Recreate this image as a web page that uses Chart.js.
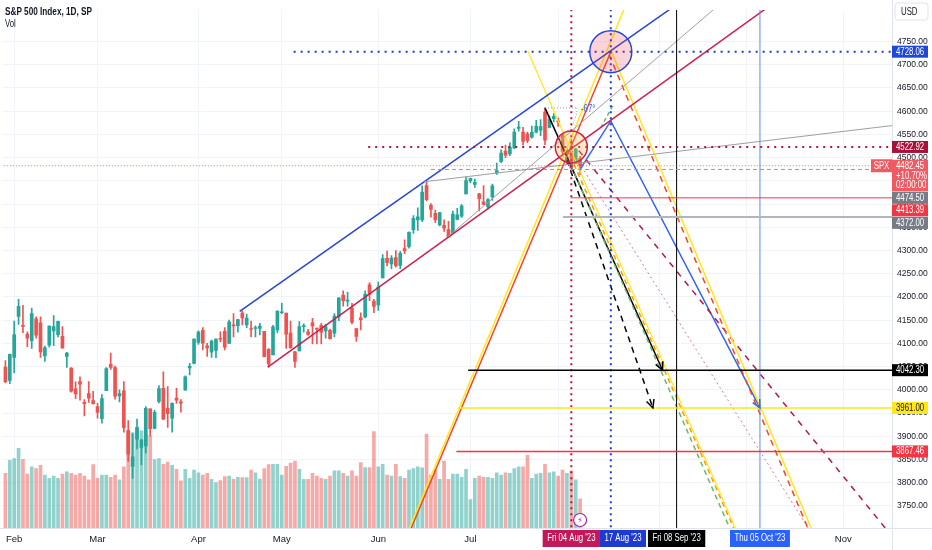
<!DOCTYPE html>
<html>
<head>
<meta charset="utf-8">
<script src="https://cdn.jsdelivr.net/npm/chart.js@4.4.0/dist/chart.umd.min.js"></script>
<style>
  html, body { margin: 0; padding: 0; background: #fff; }
</style>
</head>
<body>
<canvas id="spx" width="932" height="550"></canvas>
<script>
// trading days, Jan 30 .. Aug 8 2023 (x value = position in this list)
const days = [
  '01-30','01-31',
  '02-01','02-02','02-03','02-06','02-07','02-08','02-09','02-10','02-13','02-14','02-15','02-16','02-17','02-21','02-22','02-23','02-24','02-27','02-28',
  '03-01','03-02','03-03','03-06','03-07','03-08','03-09','03-10','03-13','03-14','03-15','03-16','03-17','03-20','03-21','03-22','03-23','03-24','03-27','03-28','03-29','03-30','03-31',
  '04-03','04-04','04-05','04-06','04-10','04-11','04-12','04-13','04-14','04-17','04-18','04-19','04-20','04-21','04-24','04-25','04-26','04-27','04-28',
  '05-01','05-02','05-03','05-04','05-05','05-08','05-09','05-10','05-11','05-12','05-15','05-16','05-17','05-18','05-19','05-22','05-23','05-24','05-25','05-26','05-30','05-31',
  '06-01','06-02','06-05','06-06','06-07','06-08','06-09','06-12','06-13','06-14','06-15','06-16','06-20','06-21','06-22','06-23','06-26','06-27','06-28','06-29','06-30',
  '07-03','07-05','07-06','07-07','07-10','07-11','07-12','07-13','07-14','07-17','07-18','07-19','07-20','07-21','07-24','07-25','07-26','07-27','07-28','07-31',
  '08-01','08-02','08-03','08-04','08-07','08-08'
];
const opens = [
  4049,4020,
  4070,4158,4137,4120,4106,4153,4144,4073,4096,4127,4119,4115,4072,4047,4002,4018,3973,3992,3977,
  3964,3938,3998,4055,4048,3987,3998,3912,3835,3894,3876,3879,3959,3917,3975,4003,3960,3939,3982,3974,3999,4047,4057,
  4102,4128,4095,4081,4085,4111,4126,4100,4140,4138,4165,4140,4131,4132,4132,4126,4087,4075,4129,
  4166,4165,4122,4082,4084,4136,4125,4144,4133,4139,4127,4128,4122,4157,4204,4191,4176,4132,4155,4157,4226,4191,
  4183,4241,4283,4271,4285,4268,4304,4308,4345,4366,4366,4440,4397,4380,4355,4354,4345,4338,4367,4374,4422,
  4450,4442,4422,4405,4394,4416,4467,4492,4514,4508,4521,4563,4555,4551,4544,4555,4559,4598,4565,4584,
  4579,4550,4494,4514,4492,4498
];
const highs = [
  4063,4077,
  4148,4195,4182,4125,4176,4157,4157,4094,4138,4160,4148,4136,4081,4048,4017,4028,3979,4018,3997,
  3971,3990,4048,4079,4051,4000,4018,3934,3905,3937,3894,3964,3959,3956,4009,4039,4007,3972,4003,3979,4030,4057,4110,
  4127,4134,4100,4107,4110,4125,4134,4150,4164,4152,4170,4163,4148,4138,4143,4126,4089,4139,4170,
  4186,4165,4148,4083,4147,4142,4130,4154,4133,4143,4141,4131,4164,4198,4213,4210,4186,4132,4166,4213,4231,4195,
  4232,4291,4299,4289,4300,4298,4323,4340,4375,4392,4439,4448,4401,4387,4382,4366,4363,4385,4391,4399,4458,
  4456,4454,4423,4440,4412,4443,4488,4517,4527,4532,4562,4578,4565,4555,4568,4580,4582,4607,4590,4595,
  4585,4551,4519,4540,4520,4503
];
const lows = [
  4015,4013,
  4037,4141,4123,4093,4089,4111,4070,4061,4092,4095,4114,4089,4048,3995,3981,3978,3944,3973,3969,
  3939,3928,3998,4044,3980,3974,3909,3846,3809,3873,3839,3864,3901,3916,3972,3936,3919,3909,3971,3952,3999,4032,4056,
  4098,4086,4072,4070,4069,4103,4086,4100,4114,4124,4140,4134,4114,4114,4118,4071,4049,4075,4123,
  4164,4089,4089,4048,4084,4124,4117,4099,4099,4099,4111,4109,4114,4149,4180,4180,4142,4104,4129,4155,4192,4166,
  4171,4241,4267,4261,4264,4261,4293,4305,4337,4343,4362,4407,4372,4360,4353,4341,4328,4336,4366,4371,4422,
  4446,4436,4385,4398,4389,4408,4464,4489,4500,4504,4519,4557,4527,4532,4542,4553,4547,4528,4564,4577,
  4567,4505,4486,4474,4491,4464
];
const closes = [
  4017.8,4076.6,
  4119.2,4179.8,4136.5,4111.1,4164.0,4117.9,4081.5,4090.5,4137.3,4136.1,4147.6,4090.4,4079.1,3997.3,3991.1,4012.3,3970.0,3982.2,3970.2,
  3951.4,3981.4,4045.6,4048.4,3986.4,3992.0,3918.3,3861.6,3855.8,3919.3,3891.9,3960.3,3916.6,3951.6,4002.9,3937.0,3948.7,3971.0,3977.5,3971.3,4027.8,4050.8,4109.3,
  4124.5,4100.6,4090.4,4105.0,4109.1,4108.9,4092.0,4146.2,4137.6,4151.3,4154.9,4154.5,4129.8,4133.5,4137.0,4071.6,4056.0,4135.4,4169.5,
  4167.9,4119.6,4090.8,4061.2,4136.3,4138.1,4119.2,4137.6,4130.6,4124.1,4136.3,4109.9,4158.8,4198.1,4192.0,4192.6,4145.6,4115.2,4151.3,4205.5,4205.5,4179.8,
  4221.0,4282.4,4273.8,4283.9,4267.5,4293.9,4298.9,4338.9,4369.0,4372.6,4425.8,4409.6,4388.7,4365.7,4381.9,4348.3,4328.8,4378.4,4376.9,4396.4,4450.4,
  4455.6,4446.8,4411.6,4399.0,4409.5,4439.3,4472.2,4510.0,4505.4,4522.8,4555.0,4565.7,4534.9,4536.3,4554.6,4567.5,4566.8,4537.4,4582.2,4589.0,
  4576.7,4513.4,4501.9,4478.0,4518.4,4482.45
];
// volume, in 100M shares
const volumes = [
  55.7,69,
  70.7,81.3,70,55,62.3,60.7,64,54,50.7,53,50.7,55,57.3,55.7,54,55.7,53,49,64.7,
  50.7,54,54,51.7,54,49,62.3,99,97.3,100.7,99,95.7,94,69.7,70.7,65,67.3,64,59.7,48,59.7,50.7,59,
  56.3,54,55.7,49.7,46.3,48.3,52.3,53,50,51.7,51.3,51.3,59,56.3,50,60.7,64.7,65,65,
  54,63,66.3,68.3,59.7,49.7,49.7,55.7,53,50.7,49.7,53,58.3,58.3,55.7,53,58.3,53,66.7,61.7,61.7,98.3,
  62.3,65,54,53,65,52.3,50.7,59,60.7,62.3,61.3,95.7,54,59,49.7,68.3,49.7,55,55,51.7,59.7,
  29,50.7,53,51.7,51.7,50.7,56.3,54,56.3,55.7,60.7,62.3,62.3,74,50.7,55,55.7,65,56.3,57.3,
  53,59,55.7,58.3,49,29.7
];

const monthTicks = [2, 21, 44, 63, 85, 106, 126, 149, 169, 191];
const monthNames = ['Feb', 'Mar', 'Apr', 'May', 'Jun', 'Jul', 'Aug', 'Sep', 'Oct', 'Nov'];
const priceTicks = [3750,3800,3850,3900,3950,4000,4050,4100,4150,4200,4250,4300,4350,4400,4450,4500,4550,4600,4650,4700,4750];

// drawings: [day, price] pairs
const channelTop = [[53.4, 4169], [160, 4876]];
const channelBottom = [[59.8, 4049], [185, 4900]];
const midFlat = [[95.5, 4448], [203, 4570]];
const midSteep = [[100.9, 4330], [170, 4888]];
const fanRed = [[90, 3646], [138, 4728.06]];
const fanYellow = [[90, 3654], [142, 4842]];
const dropYellowA = [[119.1, 4729], [168, 3667]];
const dropYellowB = [[138, 4731], [186, 3650]];
const dropRedDash = [[137.6, 4722], [185.6, 3642]];
const dropCrimsonDash = [[130.7, 4515], [203, 3674]];
const dropPinkDot = [[130.7, 4490], [185, 3672]];
const dropOrangeDash = [[129.6, 4486], [167, 3681]];
const dropGreenDash = [[128.9, 4484], [166, 3683]];
const arrowBlack = [[123, 4607], [149.8, 4042.3]];
const arrowBlackDash = [[128, 4495], [147.6, 3961]];
const zigzagBlue = [[131, 4474.5], [138, 4579], [172, 3961]];
const greenTick = [[135.7, 4564], [138.5, 4613]];

const levelPrices = [4728.06, 4522.92, 4474.50, 4413.39, 4372.00, 4042.30, 3961.00, 3867.46];
const levelFrom = [65.7, 82.7, 97, 128.9, 127.1, 105.5, 103.2, 102.8];
const markerDays = [129, 138, 153, 172];
const markerLabels = ["Fri 04 Aug '23", "17 Aug '23", "Fri 08 Sep '23", "Thu 05 Oct '23"];
const targetCircle = [138, 4728.06];
const pivotCircle = [129, 4522.92];
const lastPrice = 4482.45;
const lastChange = '+10.70%';
const countdown = '02:00:00';

const FONT = '"Liberation Sans", Arial, sans-serif';
const SQ = 0.78; // the reference text is horizontally condensed
const UP = '#26a69a', DOWN = '#ef5350';
const X_MIN = -0.73, X_MAX = 202.1, Y_MIN = 3702.5, Y_MAX = 4817.6;

const isUp = k => closes[k] >= opens[k];
const candleColors = days.map((d, k) => isUp(k) ? UP : DOWN);
const volColors = days.map((d, k) => isUp(k) ? 'rgba(38,166,154,0.5)' : 'rgba(239,83,80,0.5)');

function seg(pts, color, width, dash) {
  return {
    type: 'line',
    data: pts.map(p => ({ x: p[0], y: p[1] })),
    borderColor: color,
    borderWidth: width,
    borderDash: dash || [],
    pointRadius: 0,
    fill: false,
    tension: 0,
    order: 1,
    yAxisID: 'y'
  };
}

const levelStyles = [
  ['#1e3bd0', 2, [2, 5]],
  ['#b2163f', 2, [2, 5]],
  ['#9598a1', 1, [4, 3]],
  ['#f23645', 1, []],
  ['#b2b5be', 2, []],
  ['#000000', 1.5, []],
  ['#ffe81a', 1.5, []],
  ['#f23645', 1.5, []]
];
const markerStyles = [
  ['#b2163f', 2, [2, 4]],
  ['#1e3bd0', 2, [2, 4]],
  ['#000000', 1, []],
  ['#5b8def', 1, []]
];

const drawings = [
  seg([[X_MIN - 1, lastPrice], [X_MAX + 1, lastPrice]], 'rgba(242,54,69,0.7)', 1, [1, 2]),
  ...levelPrices.map((v, k) => seg([[levelFrom[k], v], [X_MAX + 1, v]], ...levelStyles[k])),
  ...markerDays.map((d, k) => seg([[d, Y_MIN - 50], [d, Y_MAX + 50]], ...markerStyles[k])),
  seg(midFlat, '#9e9e9e', 1),
  seg(midSteep, '#a0a0a0', 1),
  seg(channelTop, '#2746d6', 1.5),
  seg(channelBottom, '#cc1f4f', 1.5),
  seg(fanYellow, '#ffe81a', 1.5),
  seg(fanRed, '#f0452e', 1.5),
  seg(dropYellowA, '#ffe81a', 1.2),
  seg(dropYellowB, '#ffe81a', 1.5),
  seg(dropRedDash, '#f0452e', 1.5, [6, 5]),
  seg(dropCrimsonDash, '#b5174f', 1.5, [6, 6]),
  seg(dropPinkDot, '#d67a9a', 1, [2, 3]),
  seg(dropGreenDash, '#66bb6a', 1.5, [5, 4]),
  seg(dropOrangeDash, '#ff9800', 1.5, [5, 4]),
  seg(greenTick, '#66bb6a', 1.5, [4, 3]),
  seg(arrowBlack, '#000000', 1.5),
  seg(arrowBlackDash, '#000000', 1.5, [6, 5]),
  seg(zigzagBlue, '#3366ee', 1.5)
];

function arrowHead(ctx, x, y, pts, color) {
  const a = pts[pts.length - 2], b = pts[pts.length - 1];
  const x0 = x.getPixelForValue(a[0]), y0 = y.getPixelForValue(a[1]);
  const x1 = x.getPixelForValue(b[0]), y1 = y.getPixelForValue(b[1]);
  const ang = Math.atan2(y1 - y0, x1 - x0);
  ctx.save();
  ctx.strokeStyle = color;
  ctx.lineWidth = 1.5;
  ctx.setLineDash([]);
  ctx.beginPath();
  ctx.moveTo(x1 - 9 * Math.cos(ang - 0.45), y1 - 9 * Math.sin(ang - 0.45));
  ctx.lineTo(x1, y1);
  ctx.lineTo(x1 - 9 * Math.cos(ang + 0.45), y1 - 9 * Math.sin(ang + 0.45));
  ctx.stroke();
  ctx.restore();
}

// text drawn narrower than the font, like the reference
function narrowText(ctx, text, x, y, align) {
  ctx.save();
  ctx.translate(x, y);
  ctx.scale(SQ, 1);
  ctx.textAlign = align || 'left';
  ctx.fillText(text, 0, 0);
  ctx.restore();
}

function tag(ctx, left, top, w, h, bg, fg, lines) {
  ctx.fillStyle = bg;
  ctx.fillRect(left, top, w, h);
  ctx.fillStyle = fg;
  ctx.textBaseline = 'middle';
  lines.forEach((t, i) => narrowText(ctx, t, left + 4, top + 6.2 + i * 9.8));
}

const overlay = {
  id: 'overlay',
  afterDatasetsDraw(chart) {
    const { ctx, chartArea: a, scales: { x, y } } = chart;
    ctx.save();
    ctx.beginPath();
    ctx.rect(a.left, a.top, a.right - a.left, a.bottom - a.top);
    ctx.clip();

    // circles
    ctx.beginPath();
    ctx.arc(x.getPixelForValue(targetCircle[0]), y.getPixelForValue(targetCircle[1]), 21, 0, Math.PI * 2);
    ctx.fillStyle = 'rgba(242,54,69,0.22)';
    ctx.fill();
    ctx.strokeStyle = '#2746d6';
    ctx.lineWidth = 1.5;
    ctx.stroke();
    ctx.beginPath();
    ctx.arc(x.getPixelForValue(pivotCircle[0]), y.getPixelForValue(pivotCircle[1]), 16, 0, Math.PI * 2);
    ctx.fillStyle = 'rgba(255,183,77,0.3)';
    ctx.fill();
    ctx.strokeStyle = '#cc1f4f';
    ctx.stroke();

    // arrow heads
    arrowHead(ctx, x, y, arrowBlack, '#000000');
    arrowHead(ctx, x, y, arrowBlackDash, '#000000');
    arrowHead(ctx, x, y, zigzagBlue, '#3366ee');

    // trend angle tool
    const ax = x.getPixelForValue(arrowBlack[0][0]), ay = y.getPixelForValue(arrowBlack[0][1]);
    const bx = x.getPixelForValue(arrowBlack[1][0]), by = y.getPixelForValue(arrowBlack[1][1]);
    ctx.strokeStyle = '#9598a1';
    ctx.lineWidth = 1;
    ctx.setLineDash([1, 2]);
    ctx.beginPath();
    ctx.moveTo(ax, ay);
    ctx.lineTo(ax + 32, ay);
    ctx.stroke();
    ctx.beginPath();
    ctx.arc(ax, ay, 32, 0, Math.atan2(by - ay, bx - ax));
    ctx.stroke();
    ctx.setLineDash([]);
    ctx.font = '10px ' + FONT;
    ctx.fillStyle = '#3366ee';
    ctx.textBaseline = 'middle';
    narrowText(ctx, '-67°', ax + 36, ay + 1);

    // SPX tag
    const py = y.getPixelForValue(lastPrice);
    ctx.fillStyle = '#f05a62';
    ctx.fillRect(a.right - 21, py - 6.5, 21, 13);
    ctx.fillStyle = '#fff';
    narrowText(ctx, 'SPX', a.right - 10.5, py, 'center');

    // events icon
    const ex = x.getPixelForValue(days.length - 1), ey = a.bottom - 8;
    ctx.beginPath();
    ctx.arc(ex, ey, 6.5, 0, Math.PI * 2);
    ctx.fillStyle = '#fff';
    ctx.fill();
    ctx.strokeStyle = '#9c27b0';
    ctx.lineWidth = 1.2;
    ctx.stroke();
    ctx.fillStyle = '#9c27b0';
    ctx.font = '8px "DejaVu Sans", sans-serif';
    ctx.textAlign = 'center';
    ctx.fillText('⚡', ex, ey + 0.5);
    ctx.restore();
  },
  afterDraw(chart) {
    const { ctx, chartArea: a, scales: { x, y } } = chart;
    ctx.save();
    // axis borders
    ctx.strokeStyle = '#e0e3eb';
    ctx.lineWidth = 1;
    ctx.beginPath();
    ctx.moveTo(a.right + 0.5, 0);
    ctx.lineTo(a.right + 0.5, 550);
    ctx.moveTo(0, a.bottom + 0.5);
    ctx.lineTo(932, a.bottom + 0.5);
    ctx.stroke();

    // price labels on the right axis, stacked so they don't overlap
    ctx.font = '10px ' + FONT;
    const items = [
      { v: levelPrices[0], bg: '#1e48d8', fg: '#fff' },
      { v: levelPrices[1], bg: '#a8123a', fg: '#fff' },
      { v: lastPrice, bg: '#f05a62', fg: '#fff', lines: [lastPrice.toFixed(2), lastChange, countdown] },
      { v: levelPrices[2], bg: '#787b86', fg: '#fff' },
      { v: levelPrices[3], bg: '#f23645', fg: '#fff' },
      { v: levelPrices[4], bg: '#787b86', fg: '#fff' },
      { v: levelPrices[5], bg: '#000000', fg: '#fff' },
      { v: levelPrices[6], bg: '#ffe81a', fg: '#131722' },
      { v: levelPrices[7], bg: '#f23645', fg: '#fff' }
    ];
    let prevBottom = -100;
    items.forEach(it => {
      const lines = it.lines || [it.v.toFixed(2)];
      const h = 12 + (lines.length - 1) * 9.8;
      const top = Math.max(y.getPixelForValue(it.v) - 6, prevBottom + 0.5);
      tag(ctx, a.right, top, 36, h, it.bg, it.fg, lines);
      prevBottom = top + h;
    });

    // date labels on the time axis
    const dateBg = ['#c2185b', '#1e3bd0', '#000000', '#2962ff'];
    let prevRight = -100;
    ctx.textBaseline = 'middle';
    markerDays.forEach((d, k) => {
      const w = ctx.measureText(markerLabels[k]).width * SQ + 9;
      const left = Math.max(x.getPixelForValue(d) - w / 2, prevRight);
      ctx.fillStyle = dateBg[k];
      ctx.fillRect(left, a.bottom + 2, w, 17);
      ctx.fillStyle = '#fff';
      narrowText(ctx, markerLabels[k], left + w / 2, a.bottom + 10.5, 'center');
      prevRight = left + w;
    });

    // header
    ctx.textBaseline = 'alphabetic';
    ctx.fillStyle = '#131722';
    ctx.font = 'bold 10.5px ' + FONT;
    narrowText(ctx, 'S&P 500 Index, 1D, SP', 5, 15);
    ctx.font = '10px ' + FONT;
    narrowText(ctx, 'Vol', 5, 27);

    // currency box
    ctx.strokeStyle = '#e0e3eb';
    ctx.fillStyle = '#fff';
    ctx.beginPath();
    ctx.roundRect(a.right + 3, 3, 33, 17, 3);
    ctx.fill();
    ctx.stroke();
    ctx.fillStyle = '#131722';
    ctx.textBaseline = 'middle';
    narrowText(ctx, 'USD', a.right + 9, 12);
    ctx.restore();
  }
};

new Chart(document.getElementById('spx'), {
  type: 'bar',
  data: {
    datasets: [
      ...drawings,
      {
        data: days.map((d, k) => ({ x: k, y: [lows[k], highs[k]] })),
        backgroundColor: candleColors,
        barThickness: 1,
        grouped: false,
        order: 5,
        yAxisID: 'y'
      },
      {
        data: days.map((d, k) => ({ x: k, y: [Math.min(opens[k], closes[k]), Math.max(opens[k], closes[k])] })),
        backgroundColor: candleColors,
        barThickness: 3,
        minBarLength: 1,
        grouped: false,
        order: 4,
        yAxisID: 'y'
      },
      {
        data: days.map((d, k) => ({ x: k, y: volumes[k] })),
        backgroundColor: volColors,
        barThickness: 3,
        grouped: false,
        order: 8,
        yAxisID: 'v'
      }
    ]
  },
  options: {
    responsive: false,
    animation: false,
    layout: { padding: 0 },
    plugins: {
      legend: { display: false },
      tooltip: { enabled: false }
    },
    scales: {
      x: {
        type: 'linear',
        min: X_MIN,
        max: X_MAX,
        offset: false,
        afterBuildTicks: s => { s.ticks = monthTicks.map(v => ({ value: v })); },
        afterFit: s => { s.height = 22; },
        ticks: {
          autoSkip: false,
          maxRotation: 0,
          padding: 6,
          color: '#131722',
          font: { family: FONT, size: 9.5 },
          callback: (v, i) => monthNames[i]
        },
        grid: { color: '#f0f3fa', drawTicks: false, offset: false },
        border: { display: false }
      },
      y: {
        type: 'linear',
        position: 'right',
        min: Y_MIN,
        max: Y_MAX,
        afterBuildTicks: s => { s.ticks = priceTicks.map(v => ({ value: v })); },
        afterFit: s => { s.width = 40; },
        ticks: {
          padding: 5,
          color: '#131722',
          font: { family: FONT, size: 8.5 },
          callback: v => v.toFixed(2)
        },
        grid: { color: '#f0f3fa', drawTicks: false },
        border: { display: false }
      },
      v: {
        type: 'linear',
        display: false,
        min: 0,
        max: 528
      }
    }
  },
  plugins: [overlay]
});
</script>
</body>
</html>
